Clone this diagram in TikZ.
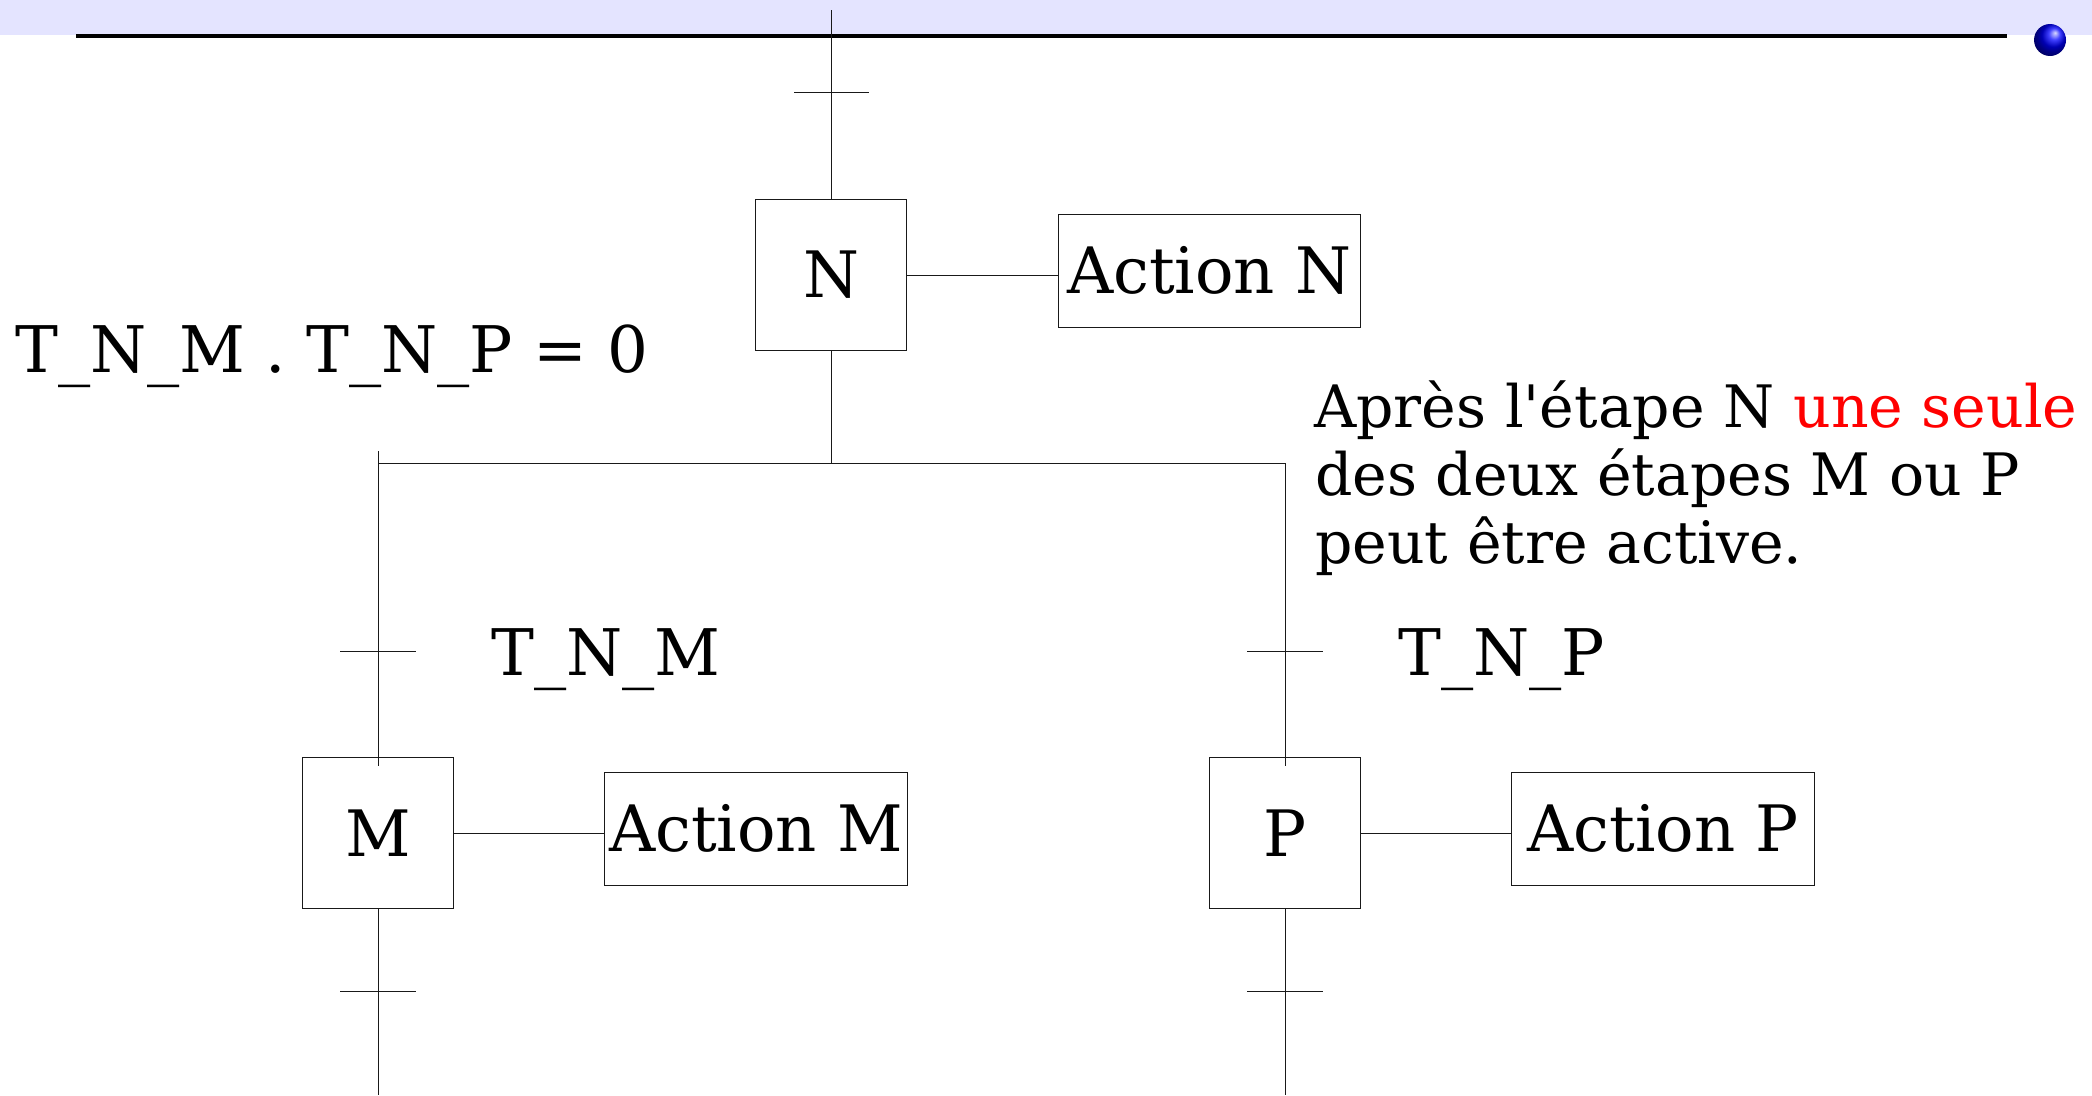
\documentclass[tikz,border=0pt]{standalone}
\usepackage{fontspec}
\setmainfont{DejaVu Serif}
\newfontfamily\plainserif{DejaVu Serif}
\definecolor{bandblue}{HTML}{E4E4FF}
\tikzset{
  thinline/.style={line width=1pt,draw=black!90},
  stepbox/.style={draw=black!90,line width=1pt,minimum width=151pt,minimum height=151pt,inner sep=0pt,font=\fontsize{64}{70}\selectfont},
  actbox/.style={draw=black!90,line width=1pt,minimum width=302.5pt,minimum height=113pt,inner sep=0pt,font=\fontsize{64}{70}\selectfont},
  label/.style={anchor=base west,inner sep=0pt,font=\fontsize{64.3}{70}\selectfont},
  para/.style={anchor=base west,inner sep=0pt,font=\plainserif\fontsize{58.5}{66}\selectfont}
}
\begin{document}
\begin{tikzpicture}[x=1pt,y=-1pt]
\useasboundingbox (0,0) rectangle (2092,1095);
\fill[bandblue] (0,0) rectangle (2092,35);
\coordinate (ruleA) at (76,35.5);
\coordinate (ruleB) at (2007,35.5);
\draw[line width=4pt,black] (ruleA) -- (ruleB);
\shade[ball color=blue,shading angle=-80] (2050,40) circle (16);
% steps
\node[stepbox] (N) at (831.3,275) {N};
\node[stepbox] (M) at (378,833.3) {M};
\node[stepbox] (P) at (1285,833.3) {P};
\node[actbox] (AN) at (1209.3,270.5) {Action N};
\node[actbox] (AM) at (756,828.8) {Action M};
\node[actbox] (AP) at (1663,828.8) {Action P};
% free ends
\coordinate (top) at (831.3,10);
\coordinate (junc) at (N.south |- 0,463.5);
\coordinate (jm) at (M.north |- 0,463.5);
\coordinate (jmtop) at (M.north |- 0,451);
\coordinate (jp) at (P.north |- 0,463.5);
\coordinate (mend) at (378,766);
\coordinate (pend) at (1285,766);
\coordinate (mbot) at (378,1095);
\coordinate (pbot) at (1285,1095);
% connectors
\draw[thinline] (top) -- (N.north);
\draw[thinline] (N.south) -- (junc);
\draw[thinline] (jm) -- (jp) -- (pend);
\draw[thinline] (jmtop) -- (mend);
\draw[thinline] (M.south) -- (mbot);
\draw[thinline] (P.south) -- (pbot);
\draw[thinline] (N.east) -- (N.east -| AN.west);
\draw[thinline] (M.east) -- (M.east -| AM.west);
\draw[thinline] (P.east) -- (P.east -| AP.west);
% ticks
\coordinate (t1a) at (794,92.7); \coordinate (t1b) at (869,92.7);
\coordinate (t2a) at (340,651); \coordinate (t2b) at (416,651);
\coordinate (t3a) at (1247,651); \coordinate (t3b) at (1323,651);
\coordinate (t4a) at (340,991); \coordinate (t4b) at (416,991);
\coordinate (t5a) at (1247,991); \coordinate (t5b) at (1323,991);
\draw[thinline] (t1a) -- (t1b);
\draw[thinline] (t2a) -- (t2b);
\draw[thinline] (t3a) -- (t3b);
\draw[thinline] (t4a) -- (t4b);
\draw[thinline] (t5a) -- (t5b);
% texts
\node[label] (eq) at (15.5,372.5) {T\_N\_M . T\_N\_P = 0};
\node[label] (tnm) at (491,675) {T\_N\_M};
\node[label] (tnp) at (1398,675) {T\_N\_P};
\node[para] (l1) at (1314,427.5) {Après l'étape N \textcolor{red}{une seule}};
\node[para] (l2) at (1315,495.5) {des deux étapes M ou P};
\node[para] (l3) at (1315,563.5) {peut être active.};
\end{tikzpicture}
\end{document}
